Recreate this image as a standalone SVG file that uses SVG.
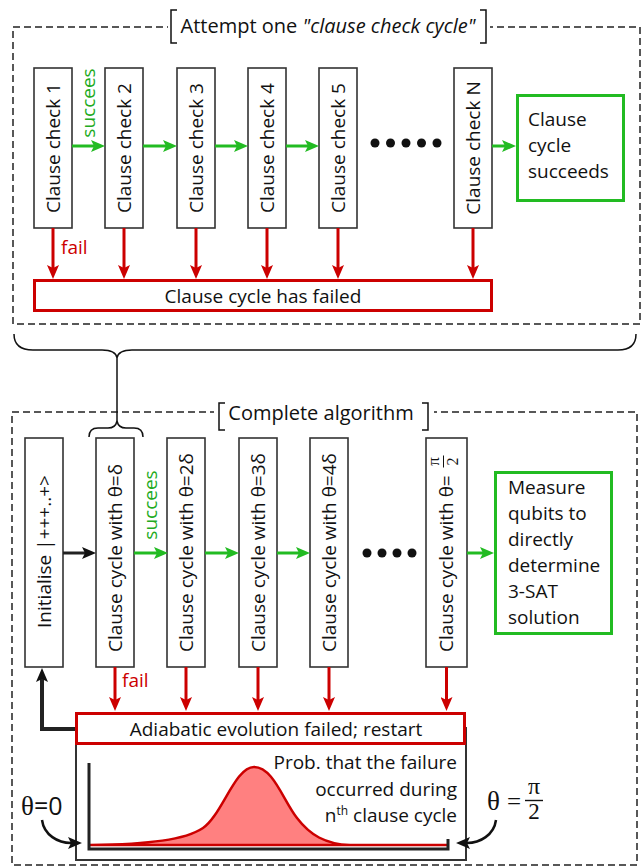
<svg xmlns="http://www.w3.org/2000/svg" width="644" height="867" viewBox="0 0 644 867">
<style>
text{font-family:"Open Sans","Noto Sans","Liberation Sans",sans-serif;font-size:19px;fill:#111}
.box{fill:#fff;stroke:#333;stroke-width:1.6}
.gbox{fill:#fff;stroke:#22bb22;stroke-width:3}
.rbox{fill:#fff;stroke:#cc0000;stroke-width:3}
.dash{fill:none;stroke:#222;stroke-width:1.5;stroke-dasharray:7 4}
.br{fill:none;stroke:#111;stroke-width:1.5}
.ga{stroke:#22bb22;stroke-width:3;fill:none;marker-end:url(#ag)}
.ra{stroke:#cc0000;stroke-width:3;fill:none;marker-end:url(#ar)}
.ka{stroke:#222;stroke-width:3;fill:none;marker-end:url(#ak)}
.gt{fill:#22aa22}
.rt{fill:#cc0000}
.mid{text-anchor:middle}
.serif{font-family:"Liberation Serif","DejaVu Serif",serif}
.title{font-size:20px}
.dot{fill:#111}
</style>
<defs>
<marker id="ag" markerUnits="userSpaceOnUse" markerWidth="14" markerHeight="12" viewBox="0 0 14 12" refX="3" refY="6" orient="auto"><path d="M0,0 L14,6 L0,12 L3,6 Z" fill="#22bb22"/></marker>
<marker id="ar" markerUnits="userSpaceOnUse" markerWidth="14" markerHeight="12" viewBox="0 0 14 12" refX="3" refY="6" orient="auto"><path d="M0,0 L14,6 L0,12 L3,6 Z" fill="#cc0000"/></marker>
<marker id="ak" markerUnits="userSpaceOnUse" markerWidth="14" markerHeight="12" viewBox="0 0 14 12" refX="3" refY="6" orient="auto"><path d="M0,0 L14,6 L0,12 L3,6 Z" fill="#111"/></marker>
</defs>

<!-- Top frame -->
<g id="top-frame">
<rect class="dash" x="13" y="27" width="627" height="297"/>
<rect x="168" y="12" width="322" height="30" fill="#fff"/>
<path class="br" d="M177,10 L171,10 L171,43 L177,43"/>
<path class="br" d="M480,10 L486,10 L486,43 L480,43"/>
<text class="mid title" x="328" y="33">Attempt one <tspan font-style="italic">"clause check cycle"</tspan></text>
</g>

<!-- Bottom frame -->
<g id="bottom-frame">
<rect class="dash" x="12" y="412" width="625" height="453"/>
<rect x="214" y="404" width="220" height="20" fill="#fff"/>
<path class="br" d="M225,403 L219,403 L219,430 L225,430"/>
<path class="br" d="M422,403 L428,403 L428,430 L422,430"/>
<text class="mid title" x="321" y="420">Complete algorithm</text>
</g>

<!-- Top row nodes -->
<g id="cc1"><rect class="box" x="34" y="68" width="38" height="160"/><text class="mid" transform="translate(53,148) rotate(-90)" y="6.5">Clause check 1</text></g>
<g id="cc2"><rect class="box" x="105" y="68" width="38" height="160"/><text class="mid" transform="translate(124,148) rotate(-90)" y="6.5">Clause check 2</text></g>
<g id="cc3"><rect class="box" x="177" y="68" width="38" height="160"/><text class="mid" transform="translate(196,148) rotate(-90)" y="6.5">Clause check 3</text></g>
<g id="cc4"><rect class="box" x="248" y="68" width="38" height="160"/><text class="mid" transform="translate(267,148) rotate(-90)" y="6.5">Clause check 4</text></g>
<g id="cc5"><rect class="box" x="319" y="68" width="38" height="160"/><text class="mid" transform="translate(338,148) rotate(-90)" y="6.5">Clause check 5</text></g>
<g id="ccN"><rect class="box" x="454" y="68" width="38" height="160"/><text class="mid" transform="translate(473,148) rotate(-90)" y="6.5">Clause check N</text></g>
<g id="cycle-succeeds"><rect class="gbox" x="517.5" y="95.5" width="106" height="105"/>
<text x="528" y="126">Clause</text><text x="528" y="152">cycle</text><text x="528" y="178">succeeds</text></g>
<g id="cycle-failed"><rect class="rbox" x="34.5" y="280.5" width="457" height="30"/><text class="mid" x="263" y="303">Clause cycle has failed</text></g>
<g id="dots-top"><circle class="dot" cx="375" cy="143" r="4.5"/><circle class="dot" cx="390.5" cy="143" r="4.5"/><circle class="dot" cx="406" cy="143" r="4.5"/><circle class="dot" cx="421.5" cy="143" r="4.5"/><circle class="dot" cx="437" cy="143" r="4.5"/></g>

<!-- Bottom row nodes -->
<g id="init"><rect class="box" x="25" y="438" width="38" height="229"/><text class="mid" transform="translate(44,552.5) rotate(-90)" x="1" y="6.5">Initialise |+++..+&gt;</text></g>
<g id="cyc1"><rect class="box" x="96" y="438" width="38" height="229"/><text transform="translate(115,552.5) rotate(-90)" x="-99.5" y="6.5">Clause cycle with θ=δ</text></g>
<g id="cyc2"><rect class="box" x="167" y="438" width="38" height="229"/><text transform="translate(186,552.5) rotate(-90)" x="-99.5" y="6.5">Clause cycle with θ=2δ</text></g>
<g id="cyc3"><rect class="box" x="239" y="438" width="38" height="229"/><text transform="translate(258,552.5) rotate(-90)" x="-99.5" y="6.5">Clause cycle with θ=3δ</text></g>
<g id="cyc4"><rect class="box" x="310" y="438" width="38" height="229"/><text transform="translate(329,552.5) rotate(-90)" x="-99.5" y="6.5">Clause cycle with θ=4δ</text></g>
<g id="cycN"><rect class="box" x="426" y="438" width="41" height="229"/>
<g transform="translate(446.5,552.5) rotate(-90)">
<text x="-99.5" y="6.5">Clause cycle with θ=</text>
<text class="serif mid" x="91" y="-8" style="font-size:17px">π</text>
<line x1="85" y1="-3" x2="97" y2="-3" stroke="#111" stroke-width="1"/>
<text class="serif mid" x="91" y="11" style="font-size:16px">2</text>
</g></g>
<g id="measure"><rect class="gbox" x="495.5" y="472.5" width="116" height="161"/>
<text x="508" y="494">Measure</text><text x="508" y="520">qubits to</text><text x="508" y="546">directly</text><text x="508" y="572">determine</text><text x="508" y="598">3-SAT</text><text x="508" y="624">solution</text></g>
<g id="dots-bottom"><circle class="dot" cx="367" cy="553" r="4.5"/><circle class="dot" cx="382" cy="553" r="4.5"/><circle class="dot" cx="397" cy="553" r="4.5"/><circle class="dot" cx="412" cy="553" r="4.5"/></g>

<g id="graph">
<rect x="76" y="728" width="390" height="132" fill="#fff" stroke="#333" stroke-width="2"/>
<path d="M90,845 C150,844 185,840 203,828 C222,815 235,767 254,767 C273,767 283,800 297,818 C310,835 325,844 350,845 L447,845 Z" fill="#ff8080" stroke="#cc0000" stroke-width="2.5" stroke-linejoin="round"/>
<path d="M89,763 L89,849 L448,849 L448,839" fill="none" stroke="#222" stroke-width="3"/>
<text x="457" y="769" text-anchor="end">Prob. that the failure</text>
<text x="457" y="796" text-anchor="end">occurred during</text>
<text x="457" y="822" text-anchor="end">n<tspan style="font-size:12px" dy="-7">th</tspan><tspan dy="7"> clause cycle</tspan></text>
</g>
<g id="evolution-failed"><rect class="rbox" x="76.5" y="713.5" width="388" height="30"/><text class="mid" x="276" y="736">Adiabatic evolution failed; restart</text></g>

<g id="theta0"><text x="21" y="815" style="font-size:25px"><tspan class="serif" style="font-size:27px">θ</tspan>=0</text></g>
<g id="thetapi2"><text class="serif" x="487" y="810" style="font-size:27px">θ</text><text class="serif" x="507" y="810" style="font-size:25px">=</text>
<text class="serif mid" x="534" y="794" style="font-size:24px">π</text><line x1="525" y1="800.5" x2="543" y2="800.5" stroke="#111" stroke-width="1.4"/><text class="serif mid" x="534" y="819" style="font-size:23px">2</text></g>

<!-- Connectors -->
<g id="connectors">
<line class="ga" x1="72" y1="146" x2="94" y2="146"/>
<line class="ga" x1="143" y1="146" x2="166" y2="146"/>
<line class="ga" x1="215" y1="146" x2="237" y2="146"/>
<line class="ga" x1="286" y1="146" x2="308" y2="146"/>
<line class="ga" x1="492" y1="146" x2="505" y2="146"/>
<text class="gt" transform="translate(89,103) rotate(-90)" text-anchor="middle" y="6">succees</text>
<line class="ra" x1="53" y1="228" x2="53" y2="268"/>
<line class="ra" x1="124" y1="228" x2="124" y2="268"/>
<line class="ra" x1="196" y1="228" x2="196" y2="268"/>
<line class="ra" x1="267" y1="228" x2="267" y2="268"/>
<line class="ra" x1="338" y1="228" x2="338" y2="268"/>
<line class="ra" x1="473" y1="228" x2="473" y2="268"/>
<text class="rt" x="61" y="254">fail</text>

<path d="M14,334 C14,344 20,350 33,350 L102,350 C110,350 116,352 117,358 C118,352 124,350 132,350 L618,350 C630,350 636,344 636,334" fill="none" stroke="#111" stroke-width="1.5"/>
<line x1="117" y1="358" x2="117" y2="421" stroke="#111" stroke-width="1.5"/>
<path d="M89,437 C89,431 92,428 98,428 L108,428 C113,428 116,426 117,421 C118,426 121,428 126,428 L134,428 C140,428 143,431 143,437" fill="none" stroke="#111" stroke-width="1.5"/>

<line class="ka" x1="63" y1="553" x2="85" y2="553"/>
<line class="ga" x1="134" y1="553" x2="157" y2="553"/>
<line class="ga" x1="205" y1="553" x2="228" y2="553"/>
<line class="ga" x1="277" y1="553" x2="299" y2="553"/>
<line class="ga" x1="467" y1="553" x2="483" y2="553"/>
<text class="gt" transform="translate(151,505) rotate(-90)" text-anchor="middle" y="6">succees</text>
<line class="ra" x1="115" y1="667" x2="115" y2="700"/>
<line class="ra" x1="186" y1="667" x2="186" y2="700"/>
<line class="ra" x1="258" y1="667" x2="258" y2="700"/>
<line class="ra" x1="329" y1="667" x2="329" y2="700"/>
<line class="ra" x1="446.5" y1="667" x2="446.5" y2="700"/>
<text class="rt" x="122" y="687">fail</text>
<path d="M75,729 L42,729 L42,679" fill="none" stroke="#222" stroke-width="4" marker-end="url(#ak)"/>
<path d="M42,820 C44,835 58,843 71,843" fill="none" stroke="#111" stroke-width="2.5" marker-end="url(#ak)"/>
<path d="M496,820 C494,835 480,843 467,843" fill="none" stroke="#111" stroke-width="2.5" marker-end="url(#ak)"/>
</g>
</svg>
